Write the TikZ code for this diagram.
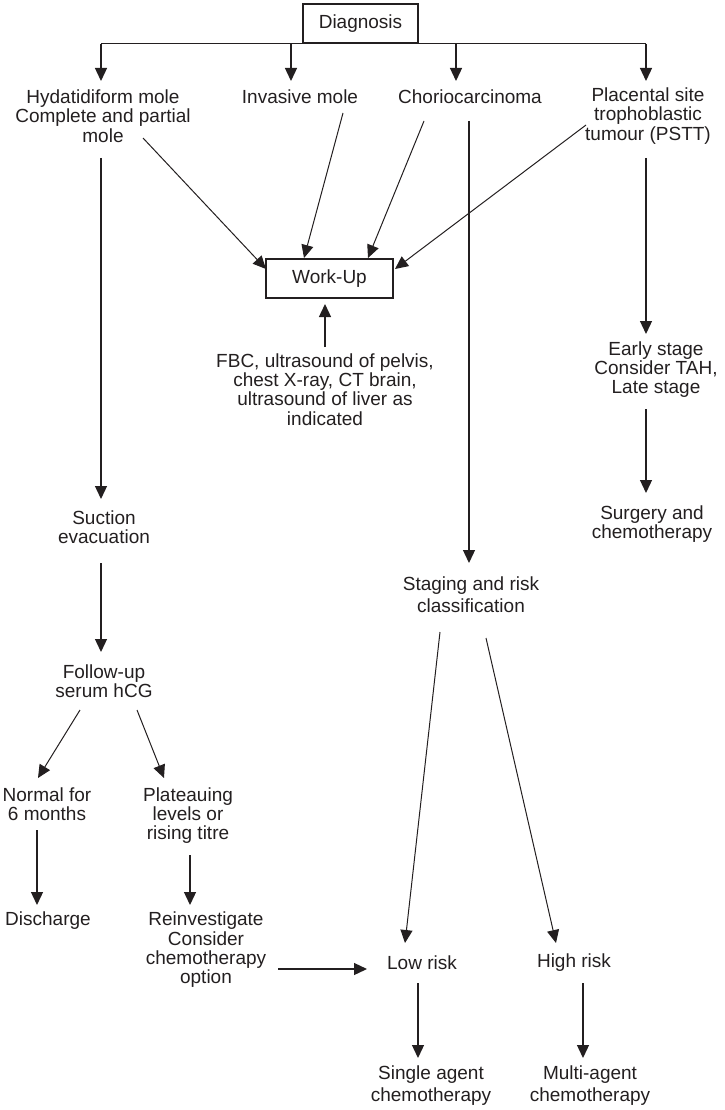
\documentclass[tikz,border=0pt]{standalone}
\usepackage{fontspec}
\setmainfont{Liberation Sans}
\usetikzlibrary{arrows.meta,calc}
\definecolor{ink}{HTML}{231F20}
\begin{document}
\begin{tikzpicture}[x=1pt,y=-1pt,
  txt/.style={align=center,inner sep=0pt,text=ink,font=\fontsize{19}{19.3}\selectfont},
  txtw/.style={txt,font=\fontsize{19}{22.5}\selectfont},
  boxnode/.style={txt,draw=ink,line width=1.4pt},
  line/.style={draw=ink,line width=1.3pt},
  arr/.style={line,-{Triangle[length=13pt,width=12pt]}},
  thinarr/.style={draw=ink,line width=1pt,-{Triangle[length=13pt,width=12pt]}}]
\useasboundingbox (0,0) rectangle (724,1110);

% nodes
\node[boxnode,minimum width=115pt,minimum height=39pt] (diag) at (360.5,23.5) {Diagnosis};
\node[txt] (hyd) at (103,116) {Hydatidiform mole\\Complete and partial\\mole};
\node[txt] (inv) at (300,97) {Invasive mole};
\node[txt] (cho) at (470,97) {Choriocarcinoma};
\node[txt] (pstt) at (648,116) {Placental site\\trophoblastic\\tumour (PSTT)};
\node[boxnode,minimum width=127pt,minimum height=39pt] (work) at (329.5,278.5) {Work-Up};
\node[txt] (fbc) at (325,389.5) {FBC, ultrasound of pelvis,\\chest X-ray, CT brain,\\ultrasound of liver as\\indicated};
\node[txt] (early) at (656,369.5) {Early stage\\Consider TAH,\\Late stage};
\node[txt] (surgery) at (652,524) {Surgery and\\chemotherapy};
\node[txt] (suction) at (104,527.5) {Suction\\evacuation};
\node[txtw] (staging) at (471,594.5) {Staging and risk\\classification};
\node[txt] (follow) at (104,681.5) {Follow-up\\serum hCG};
\node[txt] (normal) at (47,804) {Normal for\\6 months};
\node[txt] (plat) at (188,815.5) {Plateauing\\levels or\\rising titre};
\node[txt] (disch) at (48,921) {Discharge};
\node[txt] (reinv) at (206,950) {Reinvestigate\\Consider\\chemotherapy\\option};
\node[txt] (low) at (422,963) {Low risk};
\node[txt] (high) at (574,963) {High risk};
\node[txtw] (single) at (431,1085.5) {Single agent\\chemotherapy};
\node[txtw] (multi) at (590,1085.5) {Multi-agent\\chemotherapy};

% top bar and branches
\coordinate (b1) at ($(hyd)+(-2,-35)$);
\coordinate (b2) at ($(inv)+(-9,-16)$);
\coordinate (b3) at ($(cho)+(-14,-16)$);
\coordinate (b4) at ($(pstt)+(-2,-35)$);
\draw[line] (b1 |- diag.south) -- (b4 |- diag.south);
\draw[arr] (b1 |- diag.south) -- (b1);
\draw[arr] (b2 |- diag.south) -- (b2);
\draw[arr] (b3 |- diag.south) -- (b3);
\draw[arr] (b4 |- diag.south) -- (b4);

% to work-up
\draw[thinarr] ($(hyd)+(40,22)$) -- ($(work)+(-63.5,-9.5)$);
\draw[thinarr] ($(inv)+(43,16)$) -- ($(work)+(-25.5,-20.5)$);
\draw[thinarr] ($(cho)+(-46,24)$) -- ($(work)+(38.5,-20.5)$);
\draw[thinarr] ($(pstt)+(-62,9)$) -- ($(work)+(65.5,-9.5)$);
\draw[arr] ($(fbc)+(0,-42.5)$) -- ($(work)+(-4.5,25.5)$);

% hydatidiform chain
\draw[arr] ($(hyd)+(-2,42)$) -- ($(suction)+(-3,-28.5)$);
\draw[arr] ($(suction)+(-3,35.5)$) -- ($(follow)+(-3,-29.5)$);
\draw[thinarr] ($(follow)+(-24,28.5)$) -- ($(normal)+(-9,-26)$);
\draw[thinarr] ($(follow)+(33,28.5)$) -- ($(plat)+(-24,-37.5)$);
\draw[arr] ($(normal)+(-10,26)$) -- ($(disch)+(-11,-16)$);
\draw[arr] ($(plat)+(2,39.5)$) -- ($(reinv)+(-16,-45)$);
\draw[arr] ($(reinv)+(72,19)$) -- ($(low)+(-55,6)$);

% choriocarcinoma chain
\draw[arr] ($(cho)+(-1,24)$) -- ($(staging)+(-2,-31.5)$);
\draw[thinarr] ($(staging)+(-31,37.5)$) -- ($(low)+(-17,-20)$);
\draw[thinarr] ($(staging)+(15,43.5)$) -- ($(high)+(-18,-20)$);
\draw[arr] ($(low)+(-4,20)$) -- ($(single)+(-13,-27.5)$);
\draw[arr] ($(high)+(9,20)$) -- ($(multi)+(-7,-27.5)$);

% PSTT chain
\draw[arr] ($(pstt)+(-2,42)$) -- ($(early)+(-10,-35.5)$);
\draw[arr] ($(early)+(-10,39.5)$) -- ($(surgery)+(-6,-31)$);
\end{tikzpicture}
\end{document}
